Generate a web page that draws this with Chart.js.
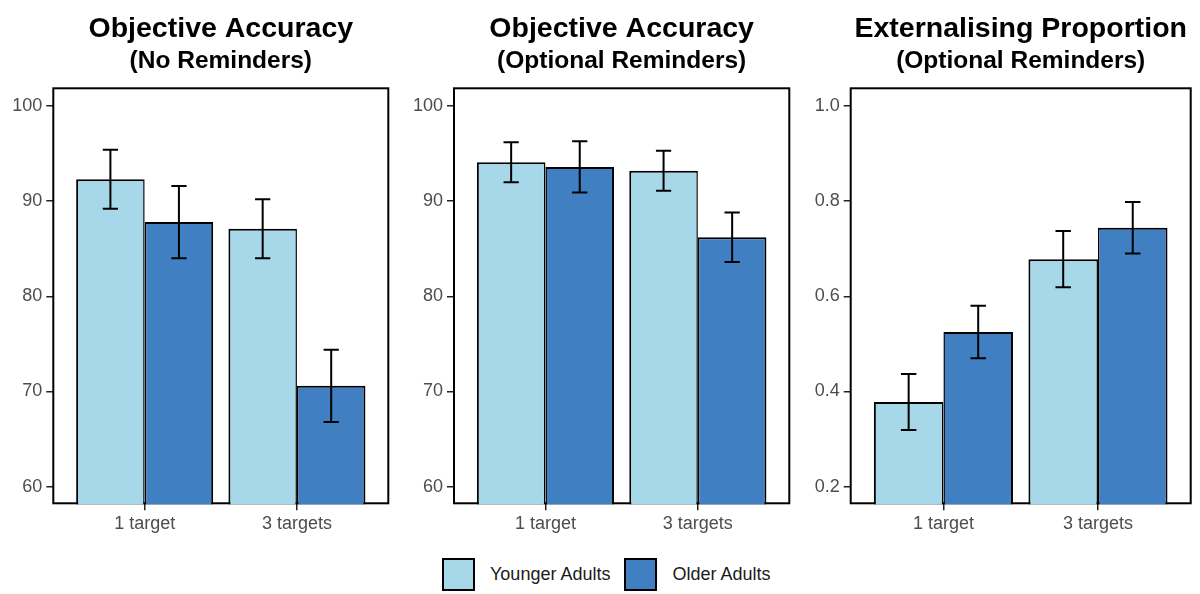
<!DOCTYPE html>
<html>
<head>
<meta charset="utf-8">
<script src="https://cdn.jsdelivr.net/npm/chart.js@4.4.1/dist/chart.umd.min.js"></script>
<style>
  html, body { margin: 0; padding: 0; background: #ffffff; }
  #wrap { position: relative; width: 1200px; height: 594px; overflow: hidden; font-family: "Liberation Sans", Arial, sans-serif; }
  .panel { position: absolute; top: 0; width: 400px; height: 545px; }
  #legend { position: absolute; top: 558px; left: 442px; height: 33px; display: flex; align-items: center; }
  .sw { width: 33px; height: 33px; box-sizing: border-box; border: 2px solid #000; margin-right: 15px; }
  .lt { font-size: 18px; color: #1a1a1a; margin-right: 14px; white-space: nowrap; }
</style>
</head>
<body>
<div id="wrap">
  <canvas id="c0" class="panel" width="400" height="545" style="left:0px"></canvas>
  <canvas id="c1" class="panel" width="400" height="545" style="left:400px"></canvas>
  <canvas id="c2" class="panel" width="400" height="545" style="left:800px"></canvas>
  <div id="legend"></div>
</div>
<script>
// ---- data ----
const categories = ['1 target', '3 targets'];
const seriesNames = ['Younger Adults', 'Older Adults'];
const panelTitles = ['Objective Accuracy', 'Objective Accuracy', 'Externalising Proportion'];
const panelSubtitles = ['(No Reminders)', '(Optional Reminders)', '(Optional Reminders)'];

const noRemYoung = [92.3, 87.1];
const noRemOld = [87.8, 70.6];
const noRemYoungErr = [3.1, 3.1];
const noRemOldErr = [3.8, 3.8];

const optYoung = [94.1, 93.2];
const optOld = [93.6, 86.2];
const optYoungErr = [2.1, 2.1];
const optOldErr = [2.7, 2.6];

const extYoung = [0.378, 0.678];
const extOld = [0.525, 0.744];
const extYoungErr = [0.059, 0.059];
const extOldErr = [0.055, 0.054];

const accuracyTicks = [60, 70, 80, 90, 100];
const proportionTicks = [0.2, 0.4, 0.6, 0.8, 1.0];

// ---- styles ----
const seriesColors = ['#A6D8EA', '#4080C2'];
const seriesBorders = [
  { top: 2, left: 2, right: 1.5, bottom: 0 },
  { top: 2, left: 1.5, right: 2, bottom: 0 }
];
const FAMILY = '"Liberation Sans", Arial, sans-serif';
const CAP_WIDTH = 0.1;

// legend (html)
const legendEl = document.getElementById('legend');
seriesNames.forEach((name, i) => {
  const sw = document.createElement('div');
  sw.className = 'sw';
  sw.style.background = seriesColors[i];
  const t = document.createElement('div');
  t.className = 'lt';
  t.textContent = name;
  legendEl.appendChild(sw);
  legendEl.appendChild(t);
});

const panelBox = {
  id: 'panelBox',
  beforeDatasetsDraw(chart) {
    const a = chart.chartArea, ctx = chart.ctx;
    ctx.save();
    ctx.strokeStyle = '#000';
    ctx.lineWidth = 2;
    ctx.strokeRect(a.left, a.top, a.right - a.left, a.bottom - a.top - 1);
    ctx.restore();
  }
};

const errorBars = {
  id: 'errorBars',
  afterDatasetsDraw(chart) {
    const ctx = chart.ctx, xs = chart.scales.x, ys = chart.scales.y;
    const half = xs.getPixelForValue(1 + CAP_WIDTH / 2) - xs.getPixelForValue(1);
    chart.data.datasets.forEach((ds, d) => {
      const meta = chart.getDatasetMeta(d);
      meta.data.forEach((bar, i) => {
        const v = ds.data[i].y, e = ds.errors[i];
        const yt = ys.getPixelForValue(v + e), yb = ys.getPixelForValue(v - e);
        ctx.save();
        ctx.strokeStyle = '#000';
        ctx.lineWidth = 2;
        ctx.beginPath();
        ctx.moveTo(bar.x, yt); ctx.lineTo(bar.x, yb);
        ctx.moveTo(bar.x - half, yt); ctx.lineTo(bar.x + half, yt);
        ctx.moveTo(bar.x - half, yb); ctx.lineTo(bar.x + half, yb);
        ctx.stroke();
        ctx.restore();
      });
    });
  }
};

function makePanel(id, p) {
  const series = [[p.young, p.youngErr], [p.old, p.oldErr]];
  return new Chart(document.getElementById(id), {
    type: 'bar',
    data: {
      datasets: series.map((s, k) => ({
        label: seriesNames[k],
        data: s[0].map((v, i) => ({ x: i + 1, y: v })),
        errors: s[1],
        backgroundColor: seriesColors[k],
        borderColor: '#000',
        borderWidth: seriesBorders[k],
        borderSkipped: 'bottom'
      }))
    },
    options: {
      responsive: false,
      animation: false,
      devicePixelRatio: 1,
      layout: { padding: { left: 0, right: p.padRight, top: 0, bottom: 7.5 } },
      datasets: { bar: { categoryPercentage: 0.9, barPercentage: 1.0 } },
      scales: {
        x: {
          type: 'linear',
          min: 0.4,
          max: 2.6,
          offset: false,
          afterBuildTicks: s => { s.ticks = categories.map((c, i) => ({ value: i + 1 })); },
          ticks: {
            callback: v => categories[Math.round(v) - 1],
            color: '#4d4d4d',
            font: { size: 18, family: FAMILY },
            padding: 2.8,
            maxRotation: 0,
            autoSkip: false
          },
          grid: { display: true, offset: false, drawOnChartArea: false, drawTicks: true, tickLength: 6, color: '#222', lineWidth: 1.5 },
          border: { display: false }
        },
        y: {
          type: 'linear',
          min: p.min,
          max: p.max,
          afterBuildTicks: s => { s.ticks = p.ticks.map(v => ({ value: v })); },
          afterFit: s => { s.width = p.axisWidth; },
          ticks: {
            callback: p.fmt,
            color: '#4d4d4d',
            font: { size: 18, family: FAMILY },
            padding: 4
          },
          grid: { display: true, drawOnChartArea: false, drawTicks: true, tickLength: 7, color: '#222', lineWidth: 1.5 },
          border: { display: false }
        }
      },
      plugins: {
        legend: { display: false },
        tooltip: { enabled: false },
        title: {
          display: true, text: p.title, fullSize: false, color: '#000',
          font: { size: 28.5, weight: 'bold', family: FAMILY },
          padding: { top: 12.3, bottom: 0.5 }
        },
        subtitle: {
          display: true, text: p.subtitle, fullSize: false, color: '#000',
          font: { size: 24.5, weight: 'bold', family: FAMILY },
          padding: { top: 0, bottom: 11.9 }
        }
      }
    },
    plugins: [panelBox, errorBars]
  });
}

makePanel('c0', {
  young: noRemYoung, old: noRemOld, youngErr: noRemYoungErr, oldErr: noRemOldErr,
  min: 58.15, max: 101.86, ticks: accuracyTicks, fmt: v => String(v),
  title: panelTitles[0], subtitle: panelSubtitles[0], axisWidth: 53.3, padRight: 11.7
});
makePanel('c1', {
  young: optYoung, old: optOld, youngErr: optYoungErr, oldErr: optOldErr,
  min: 58.15, max: 101.86, ticks: accuracyTicks, fmt: v => String(v),
  title: panelTitles[1], subtitle: panelSubtitles[1], axisWidth: 54, padRight: 10.7
});
makePanel('c2', {
  young: extYoung, old: extOld, youngErr: extYoungErr, oldErr: extOldErr,
  min: 0.163, max: 1.037, ticks: proportionTicks, fmt: v => Number(v).toFixed(1),
  title: panelTitles[2], subtitle: panelSubtitles[2], axisWidth: 50.7, padRight: 9.3
});
</script>
</body>
</html>
